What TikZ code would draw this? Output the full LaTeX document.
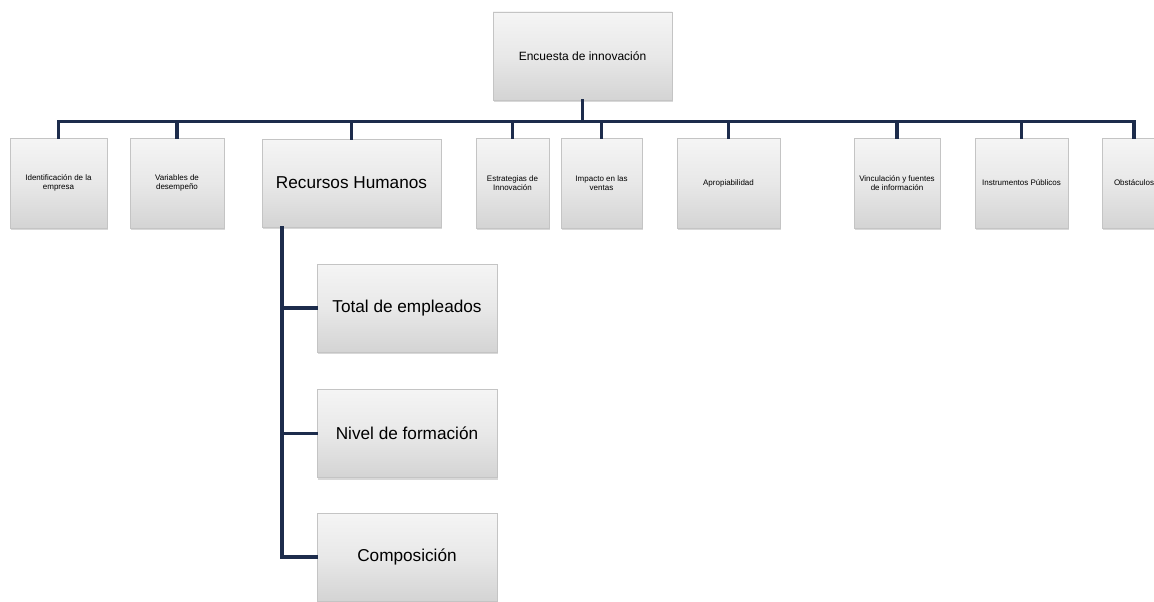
\documentclass[tikz,border=0pt]{standalone}
\usepackage{fontspec}
\setmainfont{Liberation Sans}
\usetikzlibrary{shadows}
\definecolor{linknavy}{HTML}{1D2C4C}
\definecolor{boxedge}{HTML}{C4C4C4}
\begin{document}
\begin{tikzpicture}[x=1pt,y=-1pt,
  card/.style={draw=boxedge, line width=0.6pt, inner sep=1pt, align=center,
    top color=white!96!black, bottom color=black!17, middle color=white!91!black,
    drop shadow={opacity=0.3, shadow xshift=1.2pt, shadow yshift=-2pt}},
  small/.style={card, font=\fontsize{8}{8.8}\selectfont, minimum height=90pt},
  large/.style={card, font=\fontsize{17.2}{19.5}\selectfont, minimum height=88pt, minimum width=180pt},
  link/.style={draw=linknavy, line width=3.4pt, line cap=rect}]
\useasboundingbox (0,0) rectangle (1154,602);
\fill[white] (0,0) rectangle (1154,602);
\clip (0,0) rectangle (1154,602);

% root
\node[card, minimum width=179pt, minimum height=88pt, font=\fontsize{12}{14}\selectfont]
  (root) at (582.5,56) {Encuesta de innovación};

% first level
\node[small, minimum width=97pt]  (b1) at (58.5,183)  {Identificación de la\\empresa};
\node[small, minimum width=94pt]  (b2) at (177,183)   {Variables de\\desempeño};
\node[large, minimum width=179pt, minimum height=88pt] (b3) at (351.5,183) {Recursos Humanos};
\node[small, minimum width=73pt]  (b4) at (512.5,183) {Estrategias de\\Innovación};
\node[small, minimum width=81pt]  (b5) at (601.5,183) {Impacto en las\\ventas};
\node[small, minimum width=103pt] (b6) at (728.5,183) {Apropiabilidad};
\node[small, minimum width=86pt]  (b7) at (897,183)   {Vinculación y fuentes\\de información};
\node[small, minimum width=93pt]  (b8) at (1021.5,183) {Instrumentos Públicos};
\node[small, minimum width=64pt]  (b9) at (1134,183)  {Obstáculos};

% second level under Recursos Humanos
\node[large] (c1) at (407,308)   {Total de empleados};
\node[large] (c2) at (407,433.5) {Nivel de formación};
\node[large] (c3) at (407,557)   {Composición};

% connectors from the root to the bus and down to each box
\foreach \k in {b1,b2,b3,b4,b5,b6,b7,b8,b9}
  \draw[link] (root.south) -- ++(0,21) -| (\k.north);

% connectors from Recursos Humanos
\foreach \k in {c1,c2,c3}
  \draw[link] ([xshift=-69.5pt]b3.south) |- (\k.west);
\end{tikzpicture}
\end{document}
